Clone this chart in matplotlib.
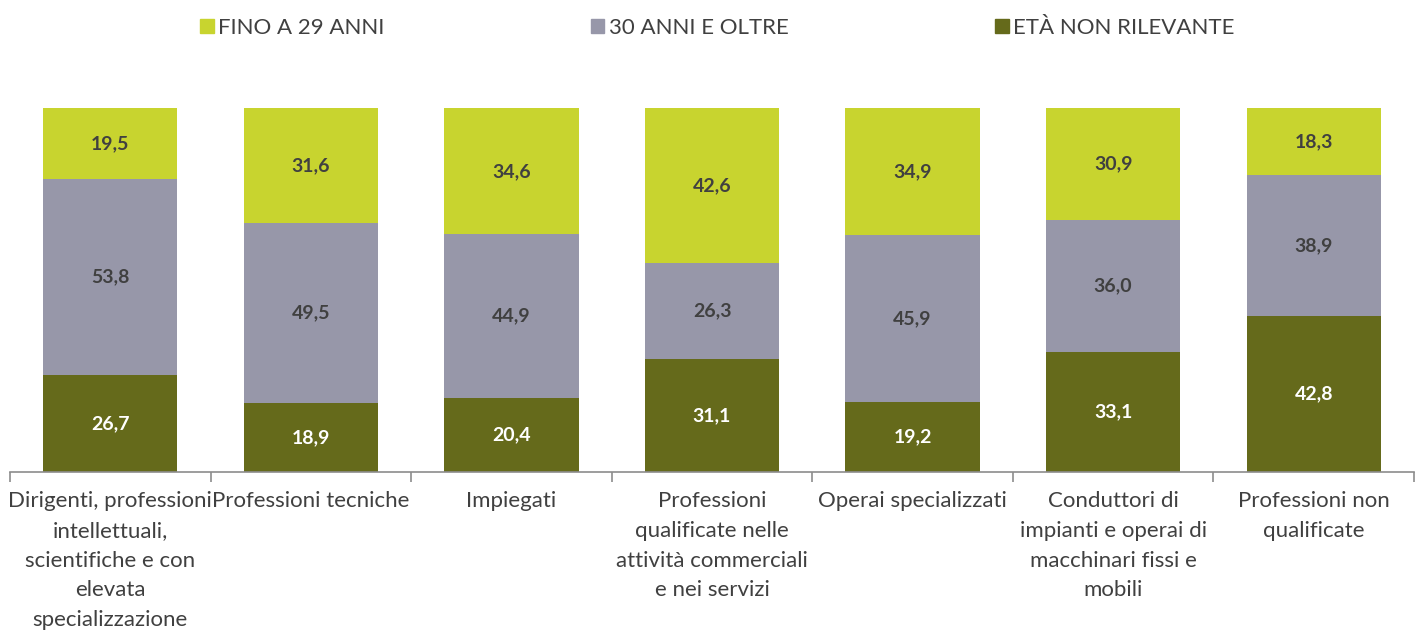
import matplotlib.pyplot as plt
import numpy as np
from matplotlib.patches import Patch

plt.rcParams['font.family'] = ['Lato', 'DejaVu Sans']

categories = [
    "Dirigenti, professioni\nintellettuali,\nscientifiche e con\nelevata\nspecializzazione",
    "Professioni tecniche",
    "Impiegati",
    "Professioni\nqualificate nelle\nattività commerciali\ne nei servizi",
    "Operai specializzati",
    "Conduttori di\nimpianti e operai di\nmacchinari fissi e\nmobili",
    "Professioni non\nqualificate",
]
fino_29 = [19.5, 31.6, 34.6, 42.6, 34.9, 30.9, 18.3]
oltre_30 = [53.8, 49.5, 44.9, 26.3, 45.9, 36.0, 38.9]
non_rilevante = [26.7, 18.9, 20.4, 31.1, 19.2, 33.1, 42.8]

c_lime = '#C8D42F'
c_gray = '#9797A9'
c_olive = '#656A1B'
txt = '#404040'

fig = plt.figure(figsize=(14.15, 6.32), dpi=100)
ax = fig.add_axes([10 / 1415, 160 / 632, 1404 / 1415, 364 / 632])

x = np.arange(len(categories))
w = 0.67
ax.bar(x, non_rilevante, w, color=c_olive)
ax.bar(x, oltre_30, w, bottom=non_rilevante, color=c_gray)
bot3 = np.array(non_rilevante) + np.array(oltre_30)
ax.bar(x, fino_29, w, bottom=bot3, color=c_lime)

def fmt(v):
    return f"{v:.1f}".replace('.', ',')

for i in range(len(categories)):
    ax.text(x[i], non_rilevante[i] / 2, fmt(non_rilevante[i]), ha='center', va='center',
            fontsize=14, fontweight='bold', color='white')
    ax.text(x[i], non_rilevante[i] + oltre_30[i] / 2, fmt(oltre_30[i]), ha='center', va='center',
            fontsize=14, fontweight='bold', color=txt)
    ax.text(x[i], bot3[i] + fino_29[i] / 2, fmt(fino_29[i]), ha='center', va='center',
            fontsize=14, fontweight='bold', color=txt)

ax.set_xlim(-0.5, len(categories) - 0.5)
ax.set_ylim(0, 100)
ax.set_yticks([])
for s in ['top', 'right', 'left']:
    ax.spines[s].set_visible(False)
ax.spines['bottom'].set_color('#8C8C8C')
ax.spines['bottom'].set_linewidth(1.2)

ax.set_xticks(x)
ax.set_xticklabels(categories, fontsize=16, color=txt, linespacing=1.6, va='top')
ax.tick_params(axis='x', which='major', length=0, pad=14)
ax.set_xticks(np.arange(-0.5, len(categories)), minor=True)
ax.tick_params(axis='x', which='minor', length=7, color='#8C8C8C', width=1.2)

handles = [Patch(color=c_lime), Patch(color=c_gray), Patch(color=c_olive)]
labels = ['FINO A 29 ANNI', '30 ANNI E OLTRE', 'ETÀ NON RILEVANTE']
fig.legend(handles, labels, loc='upper center', bbox_to_anchor=(0.507, 1.003), ncol=3,
           frameon=False, fontsize=16, handlelength=0.6, handleheight=0.6,
           handletextpad=0.2, columnspacing=9.3, labelcolor=txt)

fig.savefig('out.png', dpi=100)
